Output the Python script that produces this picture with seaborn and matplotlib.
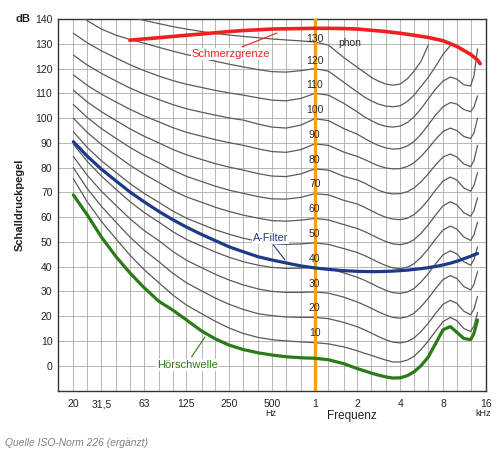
import numpy as np
import pandas as pd
import seaborn as sns
import matplotlib.pyplot as plt

nan = np.nan

FREQ = [20, 25, 31.5, 40, 50, 63, 80, 100, 125, 160, 200, 250, 315, 400, 500,
        630, 800, 1000, 1250, 1600,
        2000, 2240, 2500, 2800, 3150, 3550, 4000, 4500, 5000, 5600, 6300, 7100,
        8000, 9000, 10000, 11200, 12500, 13200, 14000]

# Hörschwelle (hearing threshold)
THRESHOLD = [69, 61, 52, 44, 37.5, 31.5, 26, 22.5, 18.5, 14, 10.8, 8.3, 6.5, 5.2, 4.3,
             3.6, 3.2, 3.0, 2.4, 0.8,
             -1.2, -2.1, -3, -3.8, -4.5, -5, -4.9, -4, -2.5, 0, 3.5, 9,
             14.5, 15.8, 13.5, 11, 10.5, 13, 18.5]

# A-Filter
A_FILTER = [90.5, 84.7, 79.4, 74.6, 70.2, 66.2, 62.3, 59, 56, 53, 50.5, 48, 46, 44, 42.7,
            41.5, 40.3, 39.5, 38.9, 38.4,
            38.1, 38.05, 38, 38, 38.1, 38.2, 38.4, 38.6, 38.9, 39.2, 39.6, 40.1,
            40.7, 41.4, 42.2, 43.2, 44.2, 44.8, 45.3]

# equal loudness contours (phon)
L10 = [75.5, 66.3, 58.3, 51.2, 44.7, 38.8, 33.5, 28.6, 24.5, 21, 17.9, 15.2, 13, 11.4, 10.5,
       10, 9.6, 9.3, 8.8, 7.6,
       6, 5, 4.2, 3.2, 2.3, 1.5, 1.5, 2.3, 3.8, 6.5, 10, 14, 17.8, 19.5, 18.2, 15, 13.8, 16, 21.5]
L20 = [80, 71.6, 64.4, 57.9, 52, 46.7, 42, 37.4, 33.5, 30.2, 27.3, 24.8, 22.7, 21, 20.2,
       19.7, 19.5, 19.5, 19, 17.5,
       15.7, 14.5, 13.2, 11.8, 10.5, 9.5, 9.2, 9.8, 11.2, 13.8, 17.2, 21.2, 24.8, 26.4, 25.2, 22, 20.6, 22.8, 28]
L30 = [84.5, 77, 70.5, 64.7, 59.4, 54.6, 50.5, 46.2, 42.6, 39.6, 36.9, 34.6, 32.6, 31, 30,
       29.6, 29.6, 29.8, 29.3, 27.7,
       25.7, 24.5, 23.2, 21.8, 20.5, 19.5, 19.2, 19.8, 21.2, 23.8, 27.2, 31.2, 34.8, 36.4, 35.2, 32, 30.6, 32.8, 38]
L40 = [89.5, 82.6, 76.6, 71.2, 66.3, 61.9, 58, 54.2, 51, 48.3, 45.9, 43.8, 42, 40.6, 39.7,
       39.3, 39.4, 39.7, 39.2, 37.5,
       35.7, 34.5, 33.2, 31.8, 30.5, 29.5, 29.2, 29.8, 31.2, 33.8, 37.2, 41.2, 44.8, 46.4, 45.2, 42, 40.6, 42.8, 48]
L50 = [94.5, 88.2, 82.8, 78, 73.6, 69.6, 66, 62.5, 59.6, 57.1, 54.9, 53.1, 51.5, 50.2, 49.3,
       49, 49.2, 49.6, 49, 47.3,
       45.7, 44.5, 43.2, 41.8, 40.5, 39.5, 39.2, 39.8, 41.2, 43.8, 47.2, 51.2, 54.8, 56.4, 55.2, 52, 50.6, 52.8, 58]
L60 = [100, 94.3, 89.4, 85, 81, 77.4, 74, 70.8, 68.2, 66, 64, 62.3, 60.8, 59.6, 58.6,
       58.4, 58.8, 59.5, 58.9, 57,
       55.4, 54.2, 52.9, 51.5, 50.2, 49.2, 48.9, 49.5, 50.9, 53.5, 56.9, 60.9, 64.6, 66.2, 65, 61.8, 60.4, 62.6, 67.8]
L70 = [105.5, 100.3, 95.8, 91.8, 88.2, 84.9, 82, 79, 76.5, 74.4, 72.5, 70.9, 69.6, 68.3, 67.4,
       67.3, 68, 69.5, 69, 66.8,
       65.3, 64, 62.6, 61.2, 60, 59.2, 59, 59.6, 61, 63.6, 67, 71, 74.6, 76.2, 75, 71.8, 70.5, 72.8, 78]
L80 = [111.3, 106.6, 102.6, 99, 95.7, 92.7, 90, 87.4, 85.2, 83.3, 81.6, 80.2, 79, 77.6, 76.6,
       76.4, 77.5, 79.5, 79, 76.5,
       75, 73.8, 72.3, 70.9, 69.9, 69.4, 69.5, 70.3, 71.8, 74.3, 77.5, 81.2, 84.3, 85.5, 84.3, 81.5, 80.4, 82.8, 89]
L90 = [117.5, 113.3, 109.7, 106.5, 103.6, 100.9, 98.5, 96.2, 94.3, 92.7, 91.3, 90.1, 89, 87.6, 86.5,
       86.2, 87.3, 89.6, 89, 86.3,
       84.5, 83.3, 82, 80.8, 79.9, 79.5, 79.6, 80.5, 82, 84.5, 87.8, 91.5, 94.6, 96, 95, 92.6, 91.8, 94, 100]
L100 = [125.5, 121.5, 118.1, 115, 112.2, 109.7, 107.5, 105.5, 103.8, 102.4, 101.2, 100.1, 99.2, 97.6, 96.4,
        96, 97.2, 99.8, 99, 95.8,
        93.5, 91.8, 90.3, 89, 88, 87.5, 87.7, 88.8, 90.6, 93.5, 97.3, 101.3, 104.6, 106.3, 105.7, 103.5, 102.6, 104.5, 109]
L110 = [134.3, 130.5, 127.2, 124.3, 121.6, 119.2, 117, 115.2, 113.7, 112.4, 111.2, 110.2, 109.3, 108.2, 107.3,
        107, 108, 110, 109.3, 106,
        102.5, 100.5, 99, 97.6, 96.7, 96.4, 96.8, 98.3, 100.5, 103.8, 107.8, 111.8, 115, 116.6, 115.8, 113.5, 113, 117, 128]
L120 = [144, 139.4, 136, 133.5, 131.8, 130.3, 128.6, 127.1, 125.7, 124.3, 123, 121.8, 120.7, 119.6, 118.8,
        118.6, 119.2, 120, 119, 114.5,
        110.5, 108.5, 107, 105.7, 104.9, 104.6, 105, 106.8, 109.3, 112.8, 116.5, 121, 125.8, 129.3,
        nan, nan, nan, nan, nan]
L130 = [150, 147, 145, 143, 141, 139.5, 138.2, 137, 136, 135, 134.2, 133.6, 133, 132.5, 132,
        131.6, 131.2, 130.8, 129.5, 124.5,
        120.5, 118.5, 116.5, 115, 113.8, 113.3, 113.8, 116, 119, 123, 129.5,
        nan, nan, nan, nan, nan, nan, nan, nan]

PHON = [10, 20, 30, 40, 50, 60, 70, 80, 90, 100, 110, 120, 130]
CONTOURS = [L10, L20, L30, L40, L50, L60, L70, L80, L90, L100, L110, L120, L130]

# Schmerzgrenze (threshold of pain)
PAIN_FREQ = [50, 63, 80, 100, 125, 160, 200, 250, 315, 400, 500, 630, 800, 1000, 1250,
             1600, 2000, 2500, 3150, 4000, 5000, 6300, 8000, 10000, 12500, 14000, 14600]
PAIN_DB = [131.5, 132, 132.5, 133, 133.5, 134, 134.5, 135, 135.4, 135.7, 136, 136.1, 136.2, 136.3, 136.3,
           136.2, 136, 135.5, 135, 134.3, 133.5, 132.6, 131.3, 129, 125.8, 123.5, 122]

GRID_FREQ = [20, 25, 31.5, 40, 50, 63, 80, 100, 125, 160, 200, 250, 315, 400, 500, 630, 800,
             1000, 1250, 1600, 2000, 2500, 3150, 4000, 5000, 6300, 8000, 10000, 12500]
TICK_FREQ = [20, 31.5, 63, 125, 250, 500, 1000, 2000, 4000, 8000, 16000]
TICK_LABELS = ['20', '31,5', '63', '125', '250', '500', '1', '2', '4', '8', '16']
DB_TICKS = list(range(0, 141, 10))

sns.set_style("white")
plt.rcParams['font.family'] = ['Liberation Sans', 'DejaVu Sans']

fig = plt.figure(figsize=(5, 4.61), dpi=100)
ax = fig.add_axes([0.116, 0.152, 0.856, 0.807])
ax.set_xscale('log')

# grey phon curves
for level, vals in zip(PHON, CONTOURS):
    df = pd.DataFrame({'f': FREQ, 'db': vals}).dropna()
    sns.lineplot(data=df, x='f', y='db', ax=ax, color='#5a5a5a', lw=0.9,
                 estimator=None, sort=False, zorder=3)

ax.axvline(1000, color='#f4a10c', lw=2.4, zorder=4)

sns.lineplot(x=FREQ, y=THRESHOLD, ax=ax, color='#2a7a18', lw=2.3, estimator=None, sort=False, zorder=5)
sns.lineplot(x=FREQ, y=A_FILTER, ax=ax, color='#1c3a8a', lw=2.3, estimator=None, sort=False, zorder=5)
sns.lineplot(x=PAIN_FREQ, y=PAIN_DB, ax=ax, color='#f02020', lw=2.6, estimator=None, sort=False, zorder=5)

# phon numbers on the 1 kHz line
for level in PHON:
    y = level + 3.2 if level < 130 else level + 2.0
    ax.text(1000, y, str(level), ha='center', va='center', fontsize=7.5, color='#2a2a2a', zorder=6)
ax.text(1770, 130.4, 'phon', ha='center', va='center', fontsize=7.5, color='#2a2a2a', zorder=6)

# curve names with leader lines
box = dict(facecolor='white', edgecolor='none', pad=0.6)
ax.text(258, 125.9, 'Schmerzgrenze', ha='center', va='center', fontsize=8, color='#f02020',
        bbox=box, zorder=6)
ax.plot([308, 543], [128.8, 134.4], color='#f02020', lw=0.8, zorder=6)
ax.text(489, 51.6, 'A-Filter', ha='center', va='center', fontsize=7.8, color='#1c3a8a',
        bbox=box, zorder=6)
ax.plot([511, 618], [48.8, 42.7], color='#1c3a8a', lw=0.8, zorder=6)
ax.text(127, 0.3, 'Hörschwelle', ha='center', va='center', fontsize=8, color='#2a7a18',
        bbox=box, zorder=6)
ax.plot([136, 169], [3.6, 11.6], color='#2a7a18', lw=0.8, zorder=6)

ax.set_xlim(15.6, 16050)
ax.set_ylim(-10.2, 140.1)
ax.set_xticks(GRID_FREQ, minor=True)
ax.set_xticks(TICK_FREQ)
ax.set_xticklabels(TICK_LABELS)
ax.xaxis.set_minor_formatter(plt.NullFormatter())
ax.set_yticks(DB_TICKS)
ax.set_xlabel('')
ax.set_ylabel('')
ax.tick_params(axis='both', which='both', length=0, labelsize=7.5, colors='#222222')
ax.tick_params(axis='x', pad=6)
ax.tick_params(axis='y', pad=4)
ax.grid(True, which='both', color='#a9aba0', lw=0.6)
ax.set_axisbelow(True)
for s in ax.spines.values():
    s.set_color('#333333')
    s.set_linewidth(1.0)

W, H = 500, 461
fig.text(23 / W, 1 - 19 / H, 'dB', ha='center', va='center', fontsize=8, fontweight='bold', color='#222222')
fig.text(20 / W, 1 - 205 / H, 'Schalldruckpegel', ha='center', va='center', rotation=90,
         fontsize=8, fontweight='bold', color='#222222')
fig.text(352 / W, 1 - 416 / H, 'Frequenz', ha='center', va='center', fontsize=8.5, color='#222222')
fig.text(271 / W, 1 - 413 / H, 'Hz', ha='center', va='center', fontsize=6.5, color='#222222')
fig.text(483 / W, 1 - 413 / H, 'kHz', ha='center', va='center', fontsize=6.5, color='#222222')
fig.text(5 / W, 1 - 443 / H, 'Quelle ISO-Norm 226 (ergänzt)', ha='left', va='center',
         fontsize=7.4, style='italic', color='#808080')

fig.savefig('out.png', dpi=100)
